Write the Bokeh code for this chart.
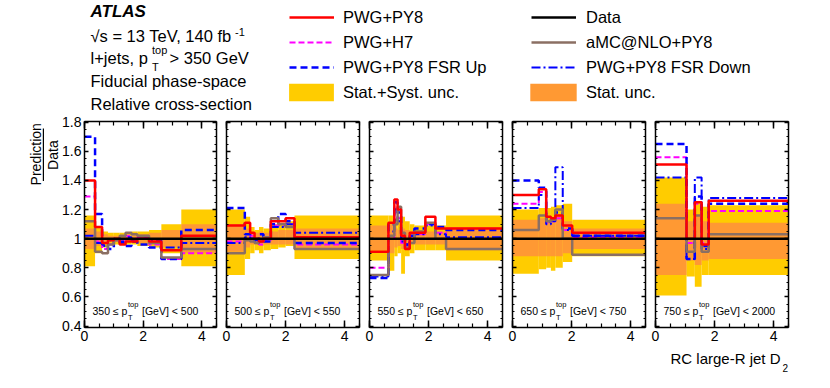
import numpy as np
from math import pi
from bokeh.plotting import figure
from bokeh.layouts import row, column
from bokeh.models import (Range1d, LinearAxis, FixedTicker, Label, Legend,
                          LegendItem, BoxAnnotation, CustomJSTickFormatter)
from bokeh.embed import file_html
from bokeh.resources import INLINE

# ---------------- data ----------------
pt_low = [350, 500, 550, 650, 750]
pt_high = [500, 550, 650, 750, 2000]

# panel 1: 350 <= pT < 500
p1_edges = [0.0, 0.36, 0.6, 0.8, 1.0, 1.2, 1.4, 1.6, 1.8, 2.2, 2.62, 3.3, 4.5]
p1_pwg_py8 = [1.40, 1.08, 0.97, 0.99, 1.00, 0.96, 0.98, 0.98, 1.00, 0.98, 0.92, 1.02]
p1_pwg_h7 = [1.29, 0.98, 0.93, 0.96, 0.99, 0.98, 1.02, 0.99, 1.01, 0.96, 0.86, 0.90]
p1_fsr_up = [1.70, 1.17, 0.96, 0.93, 0.98, 0.97, 0.95, 0.98, 0.96, 0.94, 0.86, 1.06]
p1_fsr_down = [1.02, 0.97, 0.95, 0.99, 1.00, 0.98, 1.01, 0.99, 1.00, 0.99, 0.94, 0.97]
p1_amc = [1.12, 0.91, 0.90, 0.96, 0.99, 1.02, 1.04, 1.03, 1.02, 0.97, 0.87, 0.93]
p1_tot_lo = [0.81, 0.90, 0.94, 0.96, 0.96, 0.96, 0.96, 0.96, 0.95, 0.94, 0.90, 0.81]
p1_tot_hi = [1.16, 1.08, 1.05, 1.04, 1.04, 1.04, 1.04, 1.05, 1.05, 1.06, 1.10, 1.20]
p1_stat_lo = [0.93, 0.95, 0.97, 0.98, 0.98, 0.98, 0.98, 0.98, 0.97, 0.96, 0.94, 0.90]
p1_stat_hi = [1.07, 1.05, 1.03, 1.02, 1.02, 1.02, 1.02, 1.03, 1.03, 1.04, 1.06, 1.10]

# panel 2: 500 <= pT < 550
p2_edges = [0.0, 0.62, 0.8, 0.95, 1.1, 1.25, 1.5, 1.75, 2.0, 2.3, 4.5]
p2_pwg_py8 = [1.09, 1.11, 1.04, 1.00, 0.98, 1.00, 1.12, 1.12, 1.14, 1.01]
p2_pwg_h7 = [0.98, 1.00, 1.02, 1.00, 0.96, 0.99, 1.09, 1.09, 1.10, 0.96]
p2_fsr_up = [1.21, 1.03, 1.00, 0.97, 1.03, 0.98, 1.10, 1.17, 1.12, 0.97]
p2_fsr_down = [0.97, 1.01, 1.00, 0.99, 0.98, 1.01, 1.08, 1.08, 1.10, 1.04]
p2_amc = [0.90, 0.99, 0.98, 0.97, 0.98, 1.01, 1.14, 1.10, 1.08, 0.93]
p2_tot_lo = [0.75, 0.86, 0.90, 0.92, 0.90, 0.92, 0.93, 0.94, 0.95, 0.86]
p2_tot_hi = [1.20, 1.15, 1.08, 1.06, 1.08, 1.07, 1.10, 1.11, 1.12, 1.16]
p2_stat_lo = [0.91, 0.94, 0.96, 0.96, 0.95, 0.96, 0.96, 0.96, 0.96, 0.93]
p2_stat_hi = [1.10, 1.07, 1.04, 1.04, 1.05, 1.04, 1.05, 1.06, 1.06, 1.07]

# panel 3: 550 <= pT < 650
p3_edges = [0.0, 0.64, 0.84, 0.95, 1.07, 1.2, 1.36, 1.52, 1.89, 2.23, 2.59, 4.5]
p3_pwg_py8 = [0.91, 1.11, 1.27, 1.20, 1.02, 0.93, 1.04, 1.04, 1.15, 1.07, 1.07]
p3_pwg_h7 = [0.80, 1.00, 1.22, 1.14, 0.97, 0.95, 1.00, 1.03, 1.10, 1.04, 1.00]
p3_fsr_up = [0.73, 1.10, 1.25, 1.18, 1.00, 0.96, 1.02, 1.07, 1.10, 1.08, 1.06]
p3_fsr_down = [0.74, 1.05, 1.20, 1.12, 0.98, 0.96, 1.00, 1.03, 1.09, 1.03, 1.01]
p3_amc = [0.75, 1.02, 1.10, 1.22, 1.04, 0.94, 0.97, 1.05, 1.11, 1.00, 0.93]
p3_tot_lo = [0.85, 0.78, 0.88, 0.90, 0.76, 0.88, 0.90, 0.92, 0.92, 0.92, 0.85]
p3_tot_hi = [1.16, 1.16, 1.14, 1.12, 1.15, 1.12, 1.10, 1.09, 1.09, 1.09, 1.16]
p3_stat_lo = [0.92, 0.90, 0.94, 0.95, 0.93, 0.95, 0.96, 0.96, 0.96, 0.96, 0.92]
p3_stat_hi = [1.09, 1.10, 1.07, 1.06, 1.07, 1.06, 1.05, 1.05, 1.05, 1.05, 1.08]

# panel 4: 650 <= pT < 750
p4_edges = [0.0, 0.89, 1.14, 1.3, 1.45, 1.7, 2.02, 4.5]
p4_pwg_py8 = [1.30, 1.34, 1.15, 1.14, 1.16, 1.09, 1.04]
p4_pwg_h7 = [1.24, 1.32, 1.11, 1.12, 1.14, 1.06, 1.01]
p4_fsr_up = [1.40, 1.35, 1.12, 1.13, 1.18, 1.07, 1.02]
p4_fsr_down = [1.21, 1.30, 1.10, 1.12, 1.49, 1.06, 1.02]
p4_amc = [1.06, 1.16, 1.12, 1.13, 1.20, 1.00, 0.89]
p4_tot_lo = [0.76, 0.79, 0.80, 0.78, 0.80, 0.84, 0.88]
p4_tot_hi = [1.20, 1.21, 1.21, 1.22, 1.23, 1.24, 1.13]
p4_stat_lo = [0.88, 0.88, 0.88, 0.88, 0.88, 0.90, 0.93]
p4_stat_hi = [1.13, 1.14, 1.13, 1.13, 1.14, 1.12, 1.07]

# panel 5: 750 <= pT < 2000
p5_edges = [0.0, 1.05, 1.33, 1.56, 1.8, 4.5]
p5_pwg_py8 = [1.51, 1.00, 1.25, 0.96, 1.26]
p5_pwg_h7 = [1.56, 0.97, 1.24, 0.97, 1.19]
p5_fsr_up = [1.65, 0.86, 1.29, 0.95, 1.24]
p5_fsr_down = [1.42, 0.86, 1.42, 0.93, 1.28]
p5_amc = [1.14, 0.91, 1.16, 0.91, 1.03]
p5_tot_lo = [0.61, 0.74, 0.67, 0.75, 0.75]
p5_tot_hi = [1.42, 1.20, 1.25, 1.22, 1.23]
p5_stat_lo = [0.75, 0.85, 0.82, 0.85, 0.86]
p5_stat_hi = [1.24, 1.12, 1.15, 1.12, 1.11]

DATA_RATIO = 1.0

panels = [
    dict(edges=p1_edges, pwg_py8=p1_pwg_py8, pwg_h7=p1_pwg_h7, fsr_up=p1_fsr_up,
         fsr_down=p1_fsr_down, amc=p1_amc, tot_lo=p1_tot_lo, tot_hi=p1_tot_hi,
         stat_lo=p1_stat_lo, stat_hi=p1_stat_hi),
    dict(edges=p2_edges, pwg_py8=p2_pwg_py8, pwg_h7=p2_pwg_h7, fsr_up=p2_fsr_up,
         fsr_down=p2_fsr_down, amc=p2_amc, tot_lo=p2_tot_lo, tot_hi=p2_tot_hi,
         stat_lo=p2_stat_lo, stat_hi=p2_stat_hi),
    dict(edges=p3_edges, pwg_py8=p3_pwg_py8, pwg_h7=p3_pwg_h7, fsr_up=p3_fsr_up,
         fsr_down=p3_fsr_down, amc=p3_amc, tot_lo=p3_tot_lo, tot_hi=p3_tot_hi,
         stat_lo=p3_stat_lo, stat_hi=p3_stat_hi),
    dict(edges=p4_edges, pwg_py8=p4_pwg_py8, pwg_h7=p4_pwg_h7, fsr_up=p4_fsr_up,
         fsr_down=p4_fsr_down, amc=p4_amc, tot_lo=p4_tot_lo, tot_hi=p4_tot_hi,
         stat_lo=p4_stat_lo, stat_hi=p4_stat_hi),
    dict(edges=p5_edges, pwg_py8=p5_pwg_py8, pwg_h7=p5_pwg_h7, fsr_up=p5_fsr_up,
         fsr_down=p5_fsr_down, amc=p5_amc, tot_lo=p5_tot_lo, tot_hi=p5_tot_hi,
         stat_lo=p5_stat_lo, stat_hi=p5_stat_hi),
]

# ---------------- styling ----------------
FONT = "Liberation Sans"
RED, MAG, BLUE, BROWN = "#ff0000", "#ff00ff", "#0000ff", "#8b6f63"
YEL, ORA = "#ffcc00", "#ff9933"
STYLES = {
    "pwg_h7": dict(line_color=MAG, line_width=2.0, line_dash="6 3"),
    "fsr_up": dict(line_color=BLUE, line_width=2.5, line_dash="7 4"),
    "fsr_down": dict(line_color=BLUE, line_width=2.0, line_dash="9 3 2 3"),
    "amc": dict(line_color=BROWN, line_width=2.5, line_dash="solid"),
    "pwg_py8": dict(line_color=RED, line_width=2.5, line_dash="solid"),
}
DATA_STYLE = dict(line_color="black", line_width=2.5)

X0, X1 = 0.0, 4.5
Y0, Y1 = 0.39, 1.805
FRAME_W, FRAME_H = 133, 206
TOP, BOTTOM = 9, 24
HEAD_H = 112
FOOT_H = 29
YT_W = 59

XMAJ = [0, 2, 4]
XMIN = [0.5 * k for k in range(10)]
YMAJ = [0.4, 0.6, 0.8, 1.0, 1.2, 1.4, 1.6, 1.8]
YMIN = [round(0.4 + 0.05 * k, 2) for k in range(29)]


def style_axis(ax, tin, tmin, show):
    ax.axis_line_color = "black"
    ax.axis_line_width = 1.5
    ax.major_tick_line_color = "black"
    ax.major_tick_line_width = 1.5
    ax.minor_tick_line_color = "black"
    ax.minor_tick_line_width = 1.2
    ax.major_tick_in = tin
    ax.major_tick_out = 0
    ax.minor_tick_in = tmin
    ax.minor_tick_out = 0
    if show:
        ax.major_label_text_font = FONT
        ax.major_label_text_font_size = "14px"
        ax.major_label_text_color = "black"
        ax.major_label_standoff = 3
    else:
        ax.formatter = CustomJSTickFormatter(code="return ''")
        ax.major_label_standoff = 0
        ax.major_label_text_font_size = "1px"


def bare_figure(w, h):
    f = figure(width=w, height=h, x_range=Range1d(0, w), y_range=Range1d(0, h),
               title=None, x_axis_location=None, y_axis_location=None,
               output_backend="svg", toolbar_location=None, min_border=0)
    f.xgrid.grid_line_color = None
    f.ygrid.grid_line_color = None
    f.outline_line_color = None
    return f


def ypx(px):
    """data y that lies px pixels above the frame bottom"""
    return Y0 + px * (Y1 - Y0) / FRAME_H


def build_panel(i, d):
    left = 24 if i == 0 else 5
    p = figure(width=left + FRAME_W + 5, height=TOP + FRAME_H + BOTTOM,
               x_range=Range1d(X0, X1), y_range=Range1d(Y0, Y1), title=None,
               x_axis_location=None, y_axis_location=None,
               output_backend="svg", toolbar_location=None,
               min_border_left=left, min_border_right=5,
               min_border_top=TOP, min_border_bottom=BOTTOM)
    p.xgrid.grid_line_color = None
    p.ygrid.grid_line_color = None
    p.outline_line_color = None
    edges = d["edges"]
    p.quad(left=edges[:-1], right=edges[1:], bottom=d["tot_lo"], top=d["tot_hi"],
           fill_color=YEL, line_color=None)
    p.quad(left=edges[:-1], right=edges[1:], bottom=d["stat_lo"], top=d["stat_hi"],
           fill_color=ORA, line_color=None)
    data = [DATA_RATIO] * (len(edges) - 1)
    for key in ["pwg_h7", "fsr_up", "fsr_down", "amc", "pwg_py8"]:
        vals = d[key]
        p.step(x=edges, y=vals + [vals[-1]], mode="after", **STYLES[key])
    p.step(x=edges, y=data + [data[-1]], mode="after", **DATA_STYLE)

    xt = FixedTicker(ticks=XMAJ, minor_ticks=XMIN)
    yt = FixedTicker(ticks=YMAJ, minor_ticks=YMIN)
    for loc in ["below", "above"]:
        ax = LinearAxis(ticker=xt)
        style_axis(ax, 7, 4, loc == "below")
        p.add_layout(ax, loc)
    for loc in ["left", "right"]:
        ax = LinearAxis(ticker=yt)
        show = (loc == "left" and i == 0)
        style_axis(ax, 4, 2, show)
        if show:
            ax.formatter = CustomJSTickFormatter(
                code="return (Math.round(tick*10)/10).toString()")
        p.add_layout(ax, loc)

    # pT range text (glyph centres, in px above frame bottom)
    kw = dict(text_font=FONT, text_color="black", text_baseline="middle")
    p.add_layout(Label(x=X0, y=ypx(16.5), x_offset=8, text=f"{pt_low[i]} \u2264 p",
                       text_font_size="10.5px", **kw))
    p.add_layout(Label(x=X0, y=ypx(10.5), x_offset=43.5, text="T",
                       text_font_size="7.5px", **kw))
    p.add_layout(Label(x=X0, y=ypx(23.5), x_offset=43.5, text="top",
                       text_font_size="7.5px", **kw))
    p.add_layout(Label(x=X0, y=ypx(16.5), x_offset=57.5, text=f"[GeV] < {pt_high[i]}",
                       text_font_size="10.5px", **kw))
    return p


panel_figs = [build_panel(i, d) for i, d in enumerate(panels)]
ROW_W = YT_W + sum(f.width for f in panel_figs)
ROW_H = TOP + FRAME_H + BOTTOM

# ---------------- y-axis title (page coords: fig top at y = HEAD_H) ----------------
ytf = bare_figure(YT_W, ROW_H)
def ry(py):
    return ROW_H - (py - HEAD_H)
tk = dict(text_font=FONT, text_font_size="14px", text_color="black",
          text_align="center", text_baseline="middle", angle=pi / 2)
ytf.add_layout(Label(x=35.5, y=ry(150), text="Prediction", **tk))
ytf.add_layout(Label(x=52, y=ry(151), text="Data", **tk))
ytf.add_layout(BoxAnnotation(left=42.3, right=43.5, top=ry(120), bottom=ry(181),
                             fill_color="black", fill_alpha=1.0, line_color=None))

# ---------------- header (page coords, glyph centres) ----------------
hf = bare_figure(ROW_W, HEAD_H)
def hy(py):
    return HEAD_H - py
hk = dict(text_font=FONT, text_color="black", text_baseline="middle")
hf.add_layout(Label(x=90, y=hy(11), text="ATLAS", text_font_size="17px",
                    text_font_style="bold italic", **hk))
hf.add_layout(Label(x=90, y=hy(35), text="\u221as = 13 TeV, 140 fb", text_font_size="16.5px", **hk))
hf.add_layout(Label(x=234.5, y=hy(31), text="-1", text_font_size="11px", **hk))
hf.add_layout(Label(x=90, y=hy(57), text="l+jets, p", text_font_size="16.5px", **hk))
hf.add_layout(Label(x=151.5, y=hy(49), text="top", text_font_size="11px", **hk))
hf.add_layout(Label(x=151.5, y=hy(66.5), text="T", text_font_size="11px", **hk))
hf.add_layout(Label(x=169, y=hy(57), text="> 350 GeV", text_font_size="16.5px", **hk))
hf.add_layout(Label(x=90, y=hy(80), text="Fiducial phase-space", text_font_size="16.5px", **hk))
hf.add_layout(Label(x=90, y=hy(103), text="Relative cross-section", text_font_size="16.5px", **hk))

nan = np.array([np.nan])
r_red = hf.line(x=nan, y=nan, **STYLES["pwg_py8"])
r_mag = hf.line(x=nan, y=nan, **STYLES["pwg_h7"])
r_up = hf.line(x=nan, y=nan, **STYLES["fsr_up"])
r_dat = hf.line(x=nan, y=nan, **DATA_STYLE)
r_amc = hf.line(x=nan, y=nan, **STYLES["amc"])
r_dn = hf.line(x=nan, y=nan, **STYLES["fsr_down"])
r_tot = hf.quad(left=nan, right=nan, top=nan, bottom=nan, fill_color=YEL, line_color=None)
r_sta = hf.quad(left=nan, right=nan, top=nan, bottom=nan, fill_color=ORA, line_color=None)


def make_legend(items, loc, gw, gh, standoff):
    lg = Legend(items=[LegendItem(label=t, renderers=[r]) for t, r in items],
                location=loc, glyph_width=gw, glyph_height=gh, label_height=20,
                spacing=5, label_standoff=standoff, padding=0, margin=0,
                border_line_color=None, background_fill_alpha=0,
                label_text_font=FONT, label_text_font_size="16.5px",
                label_text_color="black")
    hf.add_layout(lg)


make_legend([("PWG+PY8", r_red), ("PWG+H7", r_mag), ("PWG+PY8 FSR Up", r_up)],
            (289, HEAD_H - 7 - 70), 45, 20, 9)
make_legend([("Stat.+Syst. unc.", r_tot)], (283, HEAD_H - 81 - 22), 56, 22, 4)
make_legend([("Data", r_dat), ("aMC@NLO+PY8", r_amc), ("PWG+PY8 FSR Down", r_dn)],
            (531, HEAD_H - 7 - 70), 45, 20, 10)
make_legend([("Stat. unc.", r_sta)], (524, HEAD_H - 81 - 22), 58, 22, 4)

# ---------------- footer: x-axis title (page coords: top at HEAD_H + ROW_H) ----------------
ff = bare_figure(ROW_W, FOOT_H)
FOOT_TOP = HEAD_H + ROW_H
def fy(py):
    return FOOT_H - (py - FOOT_TOP)
ff.add_layout(Label(x=780, y=fy(357.5), text="RC large-R jet D", text_align="right",
                    text_font_size="15px", **hk))
ff.add_layout(Label(x=782, y=fy(367.5), text="2", text_align="left",
                    text_font_size="10px", **hk))

layout = column(hf, row(ytf, *panel_figs), ff)
open("out.html", "w").write(file_html(layout, INLINE))
